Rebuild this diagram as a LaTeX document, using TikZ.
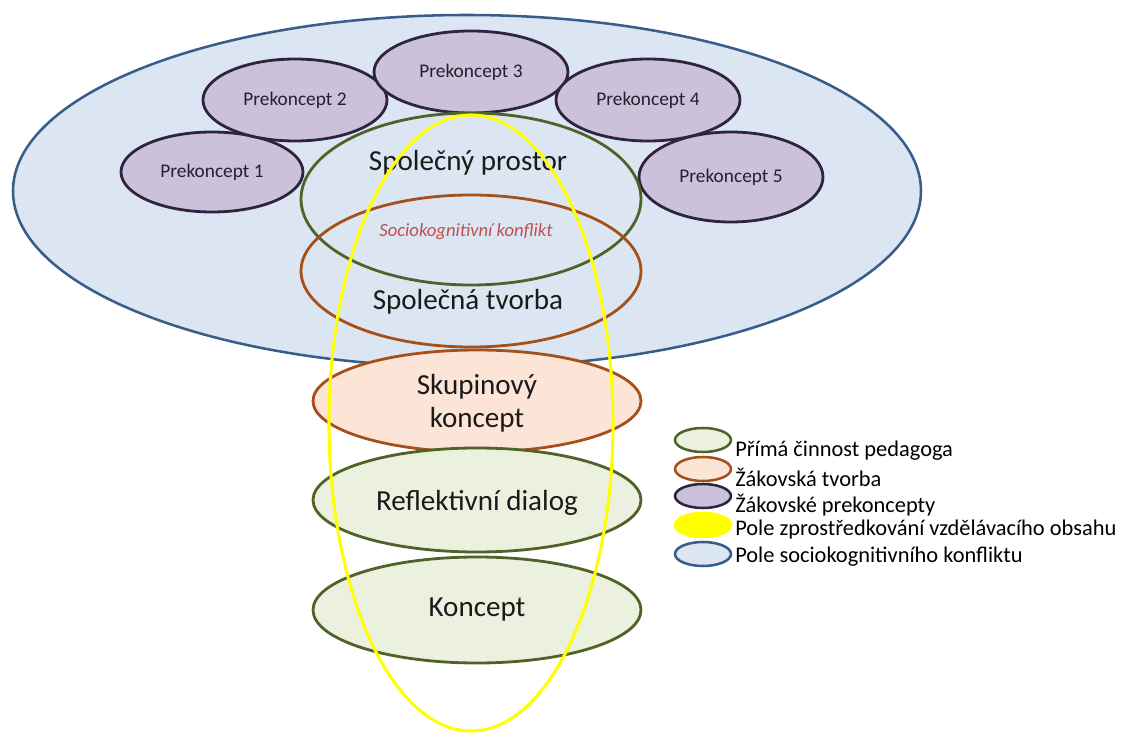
\documentclass[tikz,border=0pt]{standalone}
\usepackage{fontspec}
\setmainfont{Carlito}
\usetikzlibrary{shapes.geometric}

\definecolor{fieldfill}{HTML}{DCE6F2}
\definecolor{fielddraw}{HTML}{385D8A}
\definecolor{prefill}{HTML}{CCC1DA}
\definecolor{predraw}{HTML}{2E2440}
\definecolor{pretext}{HTML}{22222C}
\definecolor{teachdraw}{HTML}{4F6228}
\definecolor{teachfill}{HTML}{EBF1DE}
\definecolor{pupildraw}{HTML}{A5501A}
\definecolor{pupilfill}{HTML}{FCE4D6}
\definecolor{conflicttext}{HTML}{C0504D}
\definecolor{labeltext}{HTML}{1A1A1A}
\definecolor{mediate}{HTML}{FFFF00}

\tikzset{
  oval/.style={ellipse, inner sep=0pt, outer sep=0pt},
  fieldoval/.style={oval, fill=fieldfill, draw=fielddraw, line width=1.9pt},
  preoval/.style={oval, fill=prefill, draw=predraw, line width=2.1pt,
    text=pretext, font=\fontsize{14.5}{16}\selectfont},
  teachoval/.style={oval, draw=teachdraw, line width=2.1pt},
  pupiloval/.style={oval, draw=pupildraw, line width=2.1pt},
  mediateoval/.style={oval, draw=mediate, line width=2.3pt},
  biglabel/.style={text=labeltext, font=\fontsize{21.8}{25}\selectfont, align=center},
  legendicon/.style={oval, minimum width=42pt, minimum height=18pt, line width=1.9pt},
  legendtext/.style={anchor=west, text=black, inner sep=0pt,
    font=\fontsize{16.8}{20}\selectfont}
}

\begin{document}
\begin{tikzpicture}[x=0.75pt, y=-0.75pt]
  \useasboundingbox (0,0) rectangle (1122,734);

  % field of socio-cognitive conflict
  \node[fieldoval, minimum width=681pt, minimum height=264pt] (field) at (467,191) {};

  % pupils' preconceptions
  \node[preoval, minimum width=136.5pt, minimum height=60pt]  (pre1) at (212,172) {Prekoncept 1};
  \node[preoval, minimum width=138pt,   minimum height=61.5pt] (pre2) at (295,100) {Prekoncept 2};
  \node[preoval, minimum width=145.5pt, minimum height=61.5pt] (pre3) at (471,72)  {Prekoncept 3};
  \node[preoval, minimum width=138pt,   minimum height=61.5pt] (pre4) at (648,100) {Prekoncept 4};
  \node[preoval, minimum width=138pt,   minimum height=67.5pt] (pre5) at (731,177) {Prekoncept 5};

  % shared space and joint creation
  \node[teachoval, minimum width=255pt, minimum height=129pt] (shared) at (471,199) {};
  \node[pupiloval, minimum width=255pt, minimum height=114pt] (joint) at (471,271) {};
  \node[biglabel] (sharedtext) at (468,163) {Společný prostor};
  \node[text=conflicttext, font=\itshape\fontsize{14}{16}\selectfont] (conflict) at (466,232) {Sociokognitivní konflikt};
  \node[biglabel] (jointtext) at (468,302) {Společná tvorba};

  % steps below the field
  \node[oval, fill=pupilfill, draw=pupildraw, line width=2.1pt,
        minimum width=246pt, minimum height=76.5pt] (group) at (477,401) {};
  \node[biglabel] (grouptext) at (477,403) {Skupinový\\koncept};
  \node[oval, fill=teachfill, draw=teachdraw, line width=2.1pt,
        minimum width=246pt, minimum height=78pt] (reflect) at (477,500) {};
  \node[biglabel] (reflecttext) at (477,503) {Reflektivní dialog};
  \node[oval, fill=teachfill, draw=teachdraw, line width=2.1pt,
        minimum width=246pt, minimum height=79.5pt] (concept) at (477,610) {};
  \node[biglabel] (concepttext) at (477,610) {Koncept};

  % field of mediating the educational content
  \node[mediateoval, minimum width=213pt, minimum height=462pt] (mediation) at (471,423) {};

  % legend
  \node[legendicon, fill=teachfill, draw=teachdraw]   (key1) at (703,440) {};
  \node[legendicon, fill=pupilfill, draw=pupildraw]   (key2) at (703,469) {};
  \node[legendicon, fill=prefill, draw=predraw]       (key3) at (703,496) {};
  \node[legendicon, fill=mediate, draw=mediate]       (key4) at (703,525) {};
  \node[legendicon, fill=fieldfill, draw=fielddraw]   (key5) at (703,554) {};
  \node[legendtext] (keytext1) at (735,451) {Přímá činnost pedagoga};
  \node[legendtext] (keytext2) at (735,477) {Žákovská tvorba};
  \node[legendtext] (keytext3) at (735,505) {Žákovské prekoncepty};
  \node[legendtext] (keytext4) at (735,530) {Pole zprostředkování vzdělávacího obsahu};
  \node[legendtext] (keytext5) at (735,557) {Pole sociokognitivního konfliktu};
\end{tikzpicture}
\end{document}
